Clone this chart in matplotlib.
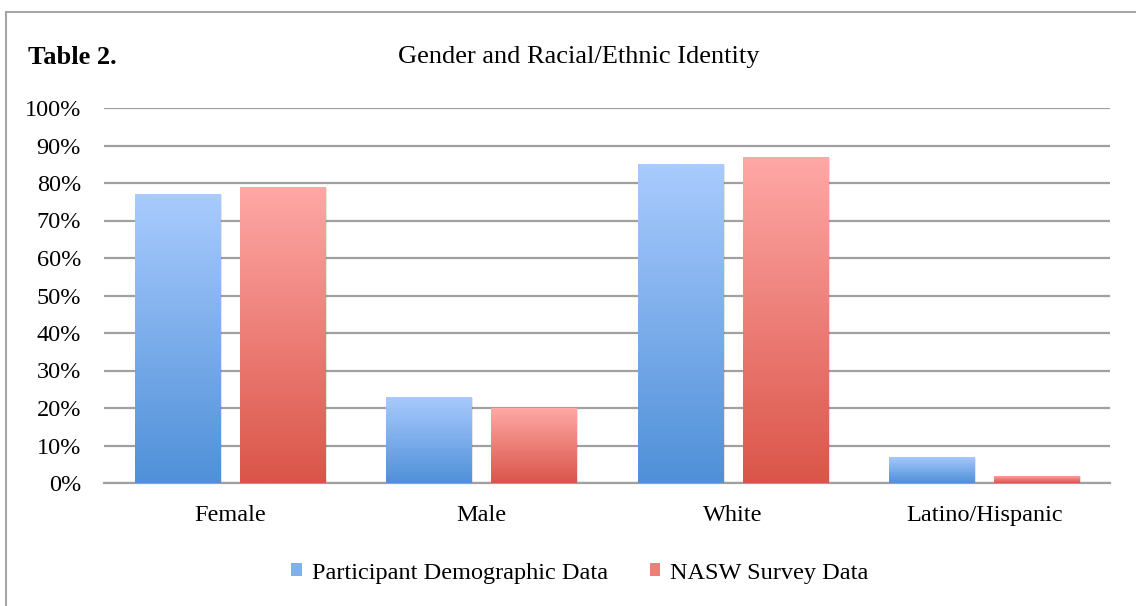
import numpy as np
import matplotlib
matplotlib.use('Agg')
import matplotlib.pyplot as plt
from matplotlib.patches import Rectangle, Patch
from matplotlib.colors import LinearSegmentedColormap

categories = ['Female', 'Male', 'White', 'Latino/Hispanic']
participant = [77, 23, 85, 7]
nasw = [79, 20, 87, 2]
series_names = ['Participant Demographic Data', 'NASW Survey Data']
yticks = [0, 10, 20, 30, 40, 50, 60, 70, 80, 90, 100]

plt.rcParams['font.family'] = ['Liberation Serif', 'DejaVu Serif']

fig = plt.figure(figsize=(11.36, 6.06), dpi=100)
ax = fig.add_axes([104/1136, 1 - 483/606, (1110-104)/1136, (483-108)/606])

# outer frame like the spreadsheet chart box
fig.patches.append(Rectangle((6/1136, -0.05), 1.2, 1 - 12/606 + 0.05,
                             transform=fig.transFigure, fill=False,
                             edgecolor='#a6a6a6', linewidth=1.5))

blue_cm = LinearSegmentedColormap.from_list('b', ['#4f90d8', '#a9cbfe'])
red_cm = LinearSegmentedColormap.from_list('r', ['#da5549', '#ffa8a6'])

x = np.arange(len(categories))
width = 0.338
offset = 0.209
grad = np.linspace(0, 1, 256).reshape(-1, 1)

def gradient_bars(xs, vals, cmap):
    for xi, v in zip(xs, vals):
        # soft shadow
        sh = Rectangle((xi - width/2 + 0.008, -0.4), width, v + 0.2,
                       facecolor='#000000', alpha=0.10, edgecolor='none', zorder=2)
        ax.add_patch(sh)
        bar = Rectangle((xi - width/2, 0), width, v, facecolor='none',
                        edgecolor='none', zorder=3)
        ax.add_patch(bar)
        im = ax.imshow(grad, cmap=cmap, origin='lower', aspect='auto',
                       extent=[xi - width/2, xi + width/2, 0, v], zorder=3,
                       interpolation='bilinear')
        im.set_clip_path(bar)

gradient_bars(x - offset, participant, blue_cm)
gradient_bars(x + offset, nasw, red_cm)

ax.set_xlim(-0.5, len(categories) - 0.5)
ax.set_ylim(0, 100)
ax.set_yticks(yticks)
ax.set_yticklabels([f'{t}%' for t in yticks], fontsize=17.5)
ax.set_xticks(x)
ax.set_xticklabels(categories, fontsize=17.5)
ax.tick_params(axis='both', length=0)
ax.tick_params(axis='y', pad=16.5)
ax.tick_params(axis='x', pad=16)
ax.grid(axis='y', color='#a0a0a0', linewidth=1.6, zorder=1)
ax.set_axisbelow(True)
for s in ['top', 'right', 'left']:
    ax.spines[s].set_visible(False)
ax.spines['bottom'].set_color('#a0a0a0')
ax.spines['bottom'].set_linewidth(1.6)

fig.text(28/1136, 1 - 57/606, 'Table 2.', fontsize=19, fontweight='bold',
         va='center', ha='left')
fig.text(579/1136, 1 - 57/606, 'Gender and Racial/Ethnic Identity', fontsize=19,
         va='center', ha='center')

handles = [Patch(facecolor='#7fb0ec', edgecolor='none'),
           Patch(facecolor='#ee7f78', edgecolor='none')]
fig.legend(handles, series_names, loc='center', bbox_to_anchor=(580/1136, 1 - 573/606),
           ncol=2, frameon=False, fontsize=17.5, handlelength=0.45, handleheight=0.45,
           handletextpad=0.4, columnspacing=1.7)

fig.savefig('out.png', dpi=100)
